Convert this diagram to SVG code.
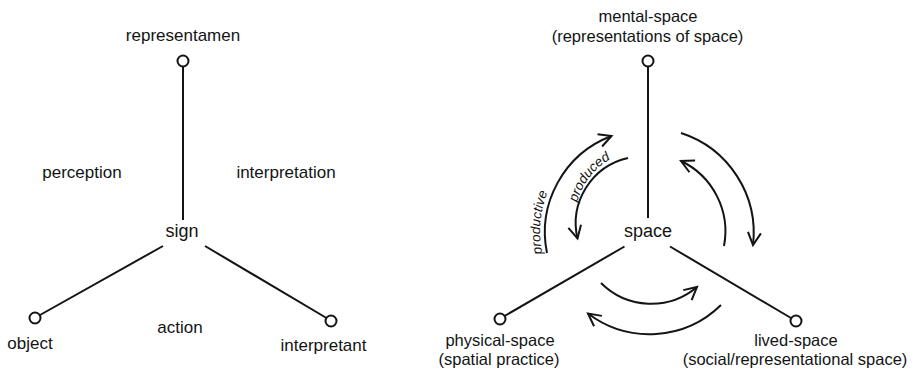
<svg xmlns="http://www.w3.org/2000/svg" width="914" height="373" viewBox="0 0 914 373">
  <style>
    .lbl { font-family: "Liberation Sans", Arial, sans-serif; font-size: 17px; fill: #141414; text-anchor: middle; }
    .big { font-size: 18px; }
    .lbl2 { font-family: "Liberation Sans", Arial, sans-serif; font-size: 16.5px; fill: #141414; text-anchor: middle; }
    .ital { font-family: "Liberation Sans", Arial, sans-serif; font-size: 13.5px; font-style: italic; fill: #141414; text-anchor: middle; }
    .edge { stroke: #141414; stroke-width: 2; fill: none; }
    .arc { stroke: #141414; stroke-width: 2; fill: none; marker-end: url(#arrow); }
    .dot { stroke: #141414; stroke-width: 2; fill: #ffffff; }
  </style>
  <defs>
    <marker id="arrow" markerUnits="userSpaceOnUse" viewBox="-15 -9 17 18" refX="0" refY="0" markerWidth="17" markerHeight="18" orient="auto" overflow="visible">
      <path d="M-12.5,-6.5 L0,0 L-12.5,6.5" fill="none" stroke="#141414" stroke-width="2" stroke-linejoin="miter"/>
    </marker>
    <path id="tp-productive" d="M554.5,286 A108,108 0 0 1 565.3,162.6"/>
    <path id="tp-produced" d="M575,220 A70,70 0 0 1 626.9,152.4"/>
  </defs>
  <rect width="914" height="373" fill="#ffffff"/>

  <g id="connectors">
    <line class="edge" x1="183" y1="66.5" x2="183" y2="220"/>
    <line class="edge" x1="163" y1="246" x2="40" y2="315"/>
    <line class="edge" x1="205" y1="246" x2="326.5" y2="318"/>
    <line class="edge" x1="648" y1="66.5" x2="648" y2="218"/>
    <line class="edge" x1="624.5" y1="246.5" x2="504.5" y2="316"/>
    <line class="edge" x1="670" y1="246.5" x2="791" y2="318"/>
  </g>

  <g id="cycle-arrows">
    <path class="arc" d="M547,253 A103,103 0 0 1 611.5,136"/>
    <path class="arc" d="M628,158 A67,67 0 0 0 577.5,238.5"/>
    <path class="arc" d="M681,133 A105,105 0 0 1 753,245"/>
    <path class="arc" d="M724,246 A78,78 0 0 0 681,161"/>
    <path class="arc" d="M601,283 A71,71 0 0 0 697,287"/>
    <path class="arc" d="M721,305 A102,102 0 0 1 588,313.5"/>
    <text class="ital"><textPath href="#tp-productive" startOffset="50%">productive</textPath></text>
    <text class="ital"><textPath href="#tp-produced" startOffset="50%">produced</textPath></text>
  </g>

  <g id="representamen">
    <circle class="dot" cx="183" cy="61" r="5.5"/>
    <text class="lbl" x="183" y="41">representamen</text>
  </g>
  <g id="sign">
    <text class="lbl big" x="182" y="237">sign</text>
  </g>
  <g id="object">
    <circle class="dot" cx="35" cy="318" r="5.5"/>
    <text class="lbl" x="30" y="349">object</text>
  </g>
  <g id="interpretant">
    <circle class="dot" cx="331" cy="321" r="5.5"/>
    <text class="lbl" x="323.5" y="351">interpretant</text>
  </g>
  <g id="label-perception">
    <text class="lbl" x="82" y="178">perception</text>
  </g>
  <g id="label-interpretation">
    <text class="lbl" x="286" y="178">interpretation</text>
  </g>
  <g id="label-action">
    <text class="lbl" x="180" y="333">action</text>
  </g>

  <g id="mental-space">
    <circle class="dot" cx="648" cy="61" r="5.5"/>
    <text class="lbl2" x="648" y="22">mental-space</text>
    <text class="lbl2" x="647.5" y="42">(representations of space)</text>
  </g>
  <g id="space">
    <text class="lbl big" x="648" y="237">space</text>
  </g>
  <g id="physical-space">
    <circle class="dot" cx="500" cy="319" r="5.5"/>
    <text class="lbl2" x="500" y="346">physical-space</text>
    <text class="lbl2" x="499" y="365">(spatial practice)</text>
  </g>
  <g id="lived-space">
    <circle class="dot" cx="796" cy="321" r="5.5"/>
    <text class="lbl2" x="796" y="346">lived-space</text>
    <text class="lbl2" x="795" y="365">(social/representational space)</text>
  </g>
</svg>
